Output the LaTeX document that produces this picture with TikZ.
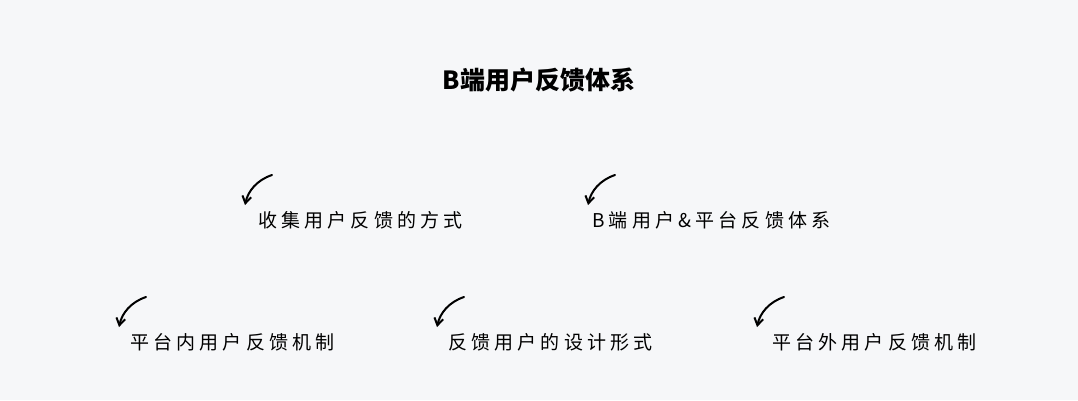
\documentclass[tikz,border=0pt]{standalone}
\usepackage{fontspec}
\setmainfont{Noto Sans CJK SC}
\newfontfamily\cjklab[LetterSpace=22]{Noto Sans CJK SC}
\usetikzlibrary{arrows.meta}
\definecolor{bg}{HTML}{F6F7F9}
\tikzset{
  lab/.style={anchor=west,inner sep=0pt,font=\cjklab\fontsize{19}{21}\selectfont,text=black},
  curv/.style={line width=2pt,line cap=round,-{Straight Barb[length=7pt,width=9pt,line width=2pt]}}
}
\begin{document}
\begin{tikzpicture}[x=1pt,y=-1pt]
\fill[bg] (0,0) rectangle (1078,400);
\useasboundingbox (0,0) rectangle (1078,400);
\node[font=\bfseries\fontsize{25}{27}\selectfont] (title) at (539,80) {B端用户反馈体系};
\node[lab] (n1) at (258,220) {收集用户反馈的方式};
\node[lab] (n2) at (592,220) {B端用户\&平台反馈体系};
\node[lab] (n3) at (130,342) {平台内用户反馈机制};
\node[lab] (n4) at (448,342) {反馈用户的设计形式};
\node[lab] (n5) at (772,342) {平台外用户反馈机制};
\foreach \n/\x/\y in {a1/272/175,a2/615/175,a3/146/297,a4/464/297,a5/784/297}{
  \coordinate (\n s) at (\x,\y);
  \coordinate (\n e) at (\x-27,\y+30);
  \draw[curv] (\n s) .. controls (\x-15,\y+5) and (\x-24,\y+16) .. (\n e);
}
\end{tikzpicture}
\end{document}
